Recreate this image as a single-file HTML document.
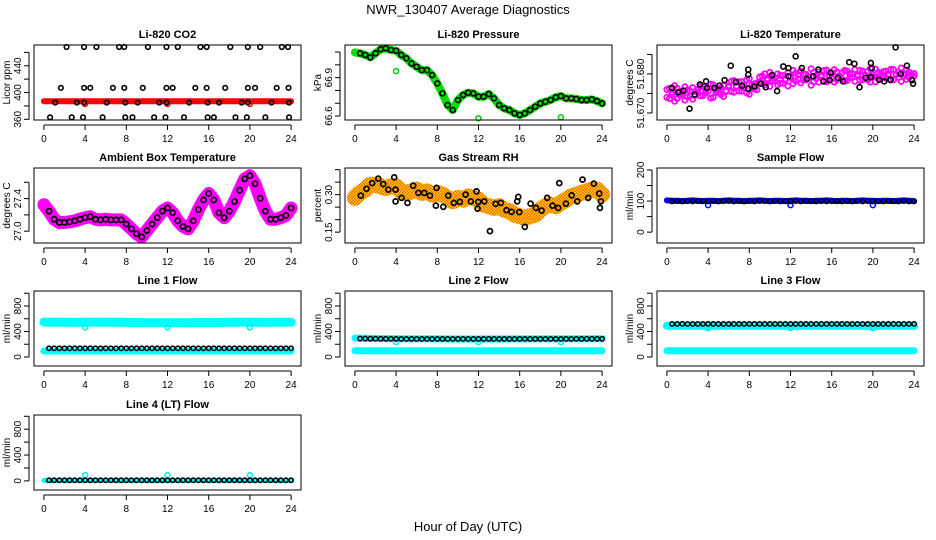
<!DOCTYPE html>
<html><head><meta charset="utf-8">
<style>
html,body{margin:0;padding:0;background:#fff;}
svg{display:block;font-family:"Liberation Sans",sans-serif;}
</style></head>
<body>
<svg id="chart" width="936" height="540" viewBox="0 0 936 540" xmlns="http://www.w3.org/2000/svg">
<defs>
<pattern id="chk" width="3" height="3" patternUnits="userSpaceOnUse">
<rect width="3" height="3" fill="#ffd800"/><rect width="1.5" height="1.5" fill="#f06000"/><rect x="1.5" y="1.5" width="1.5" height="1.5" fill="#f06000"/>
</pattern>
</defs>
<rect width="936" height="540" fill="#fff"/>
<text x="468" y="14" text-anchor="middle" font-size="13">NWR_130407  Average Diagnostics</text>
<text x="468" y="531" text-anchor="middle" font-size="13">Hour of Day (UTC)</text>
</svg>
<script>
// ---- data ----
const hours49 = [0,0.5,1,1.5,2,2.5,3,3.5,4,4.5,5,5.5,6,6.5,7,7.5,8,8.5,9,9.5,10,10.5,11,11.5,12,12.5,13,13.5,14,14.5,15,15.5,16,16.5,17,17.5,18,18.5,19,19.5,20,20.5,21,21.5,22,22.5,23,23.5,24];
const hours97 = [0,0.25,0.5,0.75,1,1.25,1.5,1.75,2,2.25,2.5,2.75,3,3.25,3.5,3.75,4,4.25,4.5,4.75,5,5.25,5.5,5.75,6,6.25,6.5,6.75,7,7.25,7.5,7.75,8,8.25,8.5,8.75,9,9.25,9.5,9.75,10,10.25,10.5,10.75,11,11.25,11.5,11.75,12,12.25,12.5,12.75,13,13.25,13.5,13.75,14,14.25,14.5,14.75,15,15.25,15.5,15.75,16,16.25,16.5,16.75,17,17.25,17.5,17.75,18,18.25,18.5,18.75,19,19.25,19.5,19.75,20,20.25,20.5,20.75,21,21.25,21.5,21.75,22,22.25,22.5,22.75,23,23.25,23.5,23.75,24];
const outlierHours = [4,12,20];

const co2Red = [387,387,387,387,387,387,387,387,387,387,387,387,387,387,387,387,387,387,387,387,387,387,387,387,387,387,387,387,387,387,387,387,387,387,387,387,387,387,387,387,387,387,387,387,387,387,387,387,387];
const co2BlackHours = [2.2,3.9,5.1,7.3,7.8,10.1,11.9,13.0,15.2,15.8,18.1,19.8,21.0,23.1,23.7, 1.65,3.9,4.5,6.7,7.8,9.6,11.9,12.5,14.7,15.8,17.6,19.8,20.5,22.6,23.75, 1.1,3.2,3.9,6.1,7.9,9.1,11.2,11.9,14.1,15.9,17.0,19.2,19.8,22.1,23.8, 0.6,2.7,3.8,5.7,7.9,8.6,10.7,11.8,13.6,15.9,16.5,18.6,19.7,21.5,23.8];
const co2BlackVals = [468,468,468,468,468,468,468,468,468,468,468,468,468,468,468, 407,407,407,407,407,407,407,407,407,407,407,407,407,407,407, 385,385,385,385,385,385,385,385,385,385,385,385,385,385,385, 363,363,363,363,363,363,363,363,363,363,363,363,363,363,363];
const co2RedOutliers = [383,383,383];

const pressure = [67.097,67.090,67.077,67.058,67.090,67.121,67.129,67.116,67.110,67.077,67.051,67.011,66.985,66.959,66.959,66.920,66.855,66.777,66.686,66.647,66.725,66.764,66.782,66.777,66.751,66.751,66.772,66.738,66.686,66.660,66.647,66.621,66.608,66.621,66.647,66.673,66.699,66.712,66.725,66.746,66.756,66.738,66.738,66.733,66.725,66.725,66.730,66.717,66.699];
const pressureOutliers = [66.951,66.582,66.590];

const tempMagentaA = [51.6740,51.6763,51.6747,51.6770,51.6737,51.6755,51.6751,51.6733,51.6759,51.6744,51.6765,51.6745,
51.6752,51.6768,51.6744,51.6761,51.6756,51.6738,51.6772,51.6753,51.6760,51.6747,51.6770,51.6755,
51.6770,51.6755,51.6783,51.6767,51.6756,51.6780,51.6765,51.6751,51.6788,51.6772,51.6761,51.6777,
51.6780,51.6795,51.6772,51.6788,51.6768,51.6790,51.6782,51.6800,51.6776,51.6796,51.6785,51.6803,
51.6793,51.6775,51.6802,51.6786,51.6807,51.6784,51.6799,51.6791,51.6771,51.6804,51.6788,51.6805,
51.6797,51.6781,51.6810,51.6793,51.6801,51.6779,51.6805,51.6795,51.6787,51.6809,51.6783,51.6800,
51.6791,51.6811,51.6798,51.6783,51.6807,51.6795,51.6785,51.6813,51.6799,51.6780,51.6804,51.6792,
51.6806,51.6789,51.6800,51.6784,51.6811,51.6797,51.6791,51.6815,51.6795,51.6786,51.6805,51.6798,
51.6795];
const tempMagentaB = [51.6760,51.6737,51.6753,51.6730,51.6763,51.6745,51.6749,51.6767,51.6741,51.6756,51.6735,51.6755,
51.6760,51.6744,51.6768,51.6751,51.6756,51.6774,51.6740,51.6759,51.6752,51.6765,51.6742,51.6757,
51.6766,51.6781,51.6753,51.6769,51.6780,51.6756,51.6771,51.6785,51.6748,51.6764,51.6775,51.6759,
51.6792,51.6777,51.6800,51.6784,51.6804,51.6782,51.6790,51.6772,51.6796,51.6776,51.6787,51.6769,
51.6791,51.6809,51.6782,51.6798,51.6777,51.6800,51.6785,51.6793,51.6813,51.6780,51.6796,51.6779,
51.6793,51.6809,51.6780,51.6797,51.6789,51.6811,51.6785,51.6795,51.6803,51.6781,51.6807,51.6790,
51.6801,51.6781,51.6794,51.6809,51.6785,51.6797,51.6807,51.6779,51.6793,51.6812,51.6788,51.6800,
51.6790,51.6807,51.6796,51.6812,51.6785,51.6799,51.6805,51.6781,51.6801,51.6810,51.6791,51.6798,
51.6801];
const tempBlackHours = [0.5,1.1,1.6,2.2,2.7,3.2,3.8,3.9,4.6,5.1,5.6,6.2,6.7,7.3,7.9,7.9,7.9,8.5,9.1,9.6,10.2,10.7,11.3,11.8,11.8,12.5,13.1,13.6,14.2,14.7,15.2,15.8,15.9,16.6,17.1,17.7,18.2,18.7,19.3,19.8,19.8,19.9,20.6,21.1,21.7,22.2,22.7,23.3,23.8,23.9];
const tempBlackVals = [51.6764,51.6753,51.6757,51.6711,51.6747,51.6773,51.6781,51.6764,51.6764,51.6770,51.6784,51.6821,51.6779,51.6770,51.6762,51.6798,51.6811,51.6768,51.6775,51.6766,51.6797,51.6756,51.6819,51.6794,51.6815,51.6845,51.6815,51.6787,51.6794,51.6811,51.6781,51.6784,51.6803,51.6790,51.6781,51.6830,51.6826,51.6766,51.6790,51.6792,51.6828,51.6815,51.6785,51.6781,51.6785,51.6868,51.6800,51.6821,51.6784,51.6775];

const ambient = [27.325,27.246,27.147,27.107,27.107,27.115,27.127,27.147,27.166,27.178,27.147,27.139,27.147,27.139,27.139,27.139,27.087,27.028,26.968,26.929,27.008,27.087,27.166,27.246,27.285,27.226,27.127,27.059,27.028,27.127,27.265,27.384,27.463,27.384,27.226,27.166,27.246,27.364,27.503,27.642,27.681,27.582,27.404,27.246,27.147,27.147,27.166,27.194,27.285];

const rhBand = [0.287,0.307,0.320,0.340,0.340,0.333,0.327,0.333,0.333,0.313,0.307,0.313,0.320,0.307,0.313,0.300,0.307,0.300,0.287,0.273,0.287,0.280,0.293,0.287,0.280,0.260,0.254,0.247,0.254,0.240,0.234,0.220,0.214,0.207,0.214,0.220,0.240,0.254,0.260,0.254,0.267,0.280,0.293,0.300,0.307,0.313,0.320,0.320,0.300];
const rhBlackHours = [0.58,1.13,1.68,2.27,2.75,3.24,3.82,3.95,3.95,4.53,5.11,5.66,6.15,6.73,7.28,7.93,7.86,8.58,9.06,9.61,10.19,10.74,11.26,11.81,11.91,11.97,12.56,13.11,13.66,14.17,14.72,15.21,15.76,15.86,15.95,16.50,17.06,17.57,18.12,18.67,19.19,19.74,19.84,20.49,21.04,21.59,22.10,22.65,23.20,23.72,23.79,23.88];
const rhBlackVals = [0.296,0.323,0.346,0.364,0.342,0.320,0.369,0.320,0.273,0.287,0.267,0.336,0.307,0.307,0.296,0.327,0.256,0.251,0.296,0.267,0.271,0.300,0.273,0.313,0.244,0.271,0.273,0.154,0.263,0.267,0.238,0.231,0.273,0.291,0.230,0.171,0.264,0.247,0.236,0.287,0.256,0.247,0.346,0.264,0.297,0.273,0.360,0.287,0.344,0.304,0.247,0.273];

const sampleBlue = [102,101,101,100,101,102,101,100,101,101,100,101,102,101,101,100,101,101,102,101,100,101,101,100,101,102,101,101,100,101,101,102,101,100,101,101,100,101,102,101,101,100,101,101,100,101,102,101,100];
const sampleBlack = [null,99,100,99,100,99,100,100,99,100,99,100,100,99,100,99,100,99,100,100,99,100,99,100,99,100,99,100,100,99,100,99,100,100,99,100,99,100,99,100,99,100,99,100,100,99,100,99,99];
const sampleOutliers = [87,87,87];

const line1Upper = [548,545,546,544,547,545,543,546,548,544,545,547,546,544,545,547,543,540,541,539,540,538,539,540,538,541,539,540,538,539,540,541,539,540,541,543,546,545,547,544,546,545,544,546,543,545,544,546,545];
const line1Lower = [94,94,94,95,94,94,94,95,94,94,94,94,95,94,94,94,94,95,94,94,94,94,95,94,94,94,94,95,94,94,94,94,95,94,94,94,94,95,94,94,94,94,95,94,94,94,94,95,94];
const line1Black = [null,136,136,137,136,136,136,137,136,136,136,136,137,136,136,136,136,137,136,136,136,136,137,136,136,136,136,137,136,136,136,136,137,136,136,136,136,137,136,136,136,136,137,136,136,136,136,137,136];
const line1Outliers = [466,466,466];

const line2Upper = [296,295,294,292,291,290,289,288,287,286,286,285,286,285,285,284,285,284,284,283,284,283,284,283,284,283,284,284,283,284,283,284,284,285,284,285,285,286,285,285,286,285,286,286,287,286,287,288,287];
const line2Lower = [99,99,99,98,99,99,99,99,98,99,99,99,99,98,99,99,99,99,98,99,99,99,99,98,99,99,99,99,98,99,99,99,99,98,99,99,99,99,98,99,99,99,99,98,99,99,99,99,99];
const line2Black = [null,290,289,288,287,286,285,285,284,284,283,284,283,283,284,283,283,284,283,283,284,283,283,284,283,283,284,283,283,284,283,283,284,283,283,284,284,283,284,284,283,284,284,285,284,285,285,286,286];
const line2Outliers = [234,234,234];

const line3Upper = [490,489,488,488,487,488,487,488,488,487,488,487,488,488,487,488,487,488,488,487,488,487,488,488,487,488,487,488,488,487,488,487,488,488,487,488,487,488,488,487,488,487,488,488,487,488,487,488,488];
const line3Lower = [99,99,99,98,99,99,99,99,98,99,99,99,99,98,99,99,99,99,98,99,99,99,99,98,99,99,99,99,98,99,99,99,99,98,99,99,99,99,98,99,99,99,99,98,99,99,99,99,99];
const line3Black = [null,519,519,520,519,518,519,519,520,519,518,519,519,518,519,518,519,518,519,518,518,519,518,519,518,519,518,519,519,518,519,518,519,519,518,519,518,519,519,518,519,518,519,519,518,519,518,519,519];
const line3Outliers = [452,452,452];

const line4Cyan = [8,8,8,8,8,8,8,8,8,8,8,8,8,8,8,8,8,8,8,8,8,8,8,8,8,8,8,8,8,8,8,8,8,8,8,8,8,8,8,8,8,8,8,8,8,8,8,8,8];
const line4Black = [null,9,9,9,9,9,9,9,9,9,9,9,9,9,9,9,9,9,9,9,9,9,9,9,9,9,9,9,9,9,9,9,9,9,9,9,9,9,9,9,9,9,9,9,9,9,9,9,9];
const line4Outliers = [89,89,89];

const xTicks = [0,4,8,12,16,20,24];

// ---- geometry ----
const NS = "http://www.w3.org/2000/svg";
const svg = document.getElementById('chart');
const X0 = [34,345,657], Y0 = [45,168,291,415], W = 267, H = 75;
function mk(tag, attrs, parent){ const e = document.createElementNS(NS, tag); for (const k in attrs) e.setAttribute(k, attrs[k]); (parent||svg).appendChild(e); return e; }

function makePanel(c, r, title, ytitle, lo, hi, ticks, labels, name){
  const g = mk('g', {});
  
  
  const x0 = X0[c], y0 = Y0[r];
  const sx = h => x0 + (h + 0.96) / 25.92 * W;
  const sy = v => y0 + H - (v - lo) / (hi - lo) * H;
  const p = {g, sx, sy, x0, y0};
  const plot = mk('g', {}, g);
  
  
  p.plot = plot;
  p.finish = () => {
    const box = mk('rect', {x:x0, y:y0, width:W, height:H, fill:'none', stroke:'#000', 'stroke-width':1}, g);
    
    
    const t = mk('text', {x:x0 + W/2, y:y0 - 7, 'text-anchor':'middle', 'font-size':11, 'font-weight':'bold'}, g);
    t.textContent = title;
    
    
    const yt = mk('text', {transform:`translate(${x0-24},${y0+H/2}) rotate(-90)`, 'text-anchor':'middle', 'font-size':10}, g);
    yt.textContent = ytitle;
    
    
    const xa = mk('g', {}, g);
    
    
    const yb = y0 + H;
    mk('line', {x1:sx(xTicks[0]), x2:sx(xTicks[xTicks.length-1]), y1:yb+5, y2:yb+5, stroke:'#000'}, xa);
    xTicks.forEach(h => {
      mk('line', {x1:sx(h), x2:sx(h), y1:yb+5, y2:yb+10, stroke:'#000'}, xa);
      const tl = mk('text', {x:sx(h), y:yb+22, 'text-anchor':'middle', 'font-size':10}, xa);
      tl.textContent = h;
      
      
    });
    const ya = mk('g', {}, g);
    
    
    mk('line', {x1:x0-5, x2:x0-5, y1:sy(ticks[0]), y2:sy(ticks[ticks.length-1]), stroke:'#000'}, ya);
    ticks.forEach((v, i) => {
      mk('line', {x1:x0-10, x2:x0-5, y1:sy(v), y2:sy(v), stroke:'#000'}, ya);
      if (labels[i] !== '') {
        const tl = mk('text', {transform:`translate(${x0-13},${sy(v)}) rotate(-90)`, 'text-anchor':'middle', 'font-size':10}, ya);
        tl.textContent = labels[i];
        
        
      }
    });
  };
  return p;
}

function band(p, hs, vals, color, width, name){
  const pts = [];
  hs.forEach((h, i) => { if (vals[i] !== null) pts.push(p.sx(h).toFixed(1) + ',' + p.sy(vals[i]).toFixed(1)); });
  const pl = mk('polyline', {points:pts.join(' '), fill:'none', stroke:color, 'stroke-width':width, 'stroke-linejoin':'round', 'stroke-linecap':'round'}, p.plot);
  
  
}
function circles(p, hs, vals, color, r, sw, name){
  const g = mk('g', {}, p.plot);
  
  
  hs.forEach((h, i) => {
    if (vals[i] === null || vals[i] === undefined) return;
    const c = mk('circle', {cx:p.sx(h), cy:p.sy(vals[i]), r:r, fill:'none', stroke:color, 'stroke-width':sw}, g);
    
    
  });
}

// CO2
let p = makePanel(0,0,'Li-820 CO2','Licor ppm',359,471,[360,380,400,420,440,460],['360','','400','','440',''],'co2');
band(p, hours49, co2Red, '#f00', 6, 'co2-red-band');
circles(p, outlierHours, co2RedOutliers, '#f00', 2.5, 1.5, 'co2-red-outliers');
circles(p, co2BlackHours, co2BlackVals, '#000', 2.3, 1.6, 'co2-black-points');
p.finish();

// Pressure
p = makePanel(1,0,'Li-820 Pressure','kPa',66.569,67.155,[66.6,66.7,66.8,66.9,67.0,67.1],['66.6','','','66.9','',''],'pressure');
band(p, hours49, pressure, '#00dd00', 8, 'pressure-green-band');
circles(p, outlierHours, pressureOutliers, '#00cc00', 2.5, 1.5, 'pressure-outliers');
circles(p, hours49.slice(1), pressure.slice(1), '#000', 2.5, 1.6, 'pressure-black-points');
p.finish();

// Temperature
p = makePanel(2,0,'Li-820 Temperature','degrees C',51.6682,51.6874,[51.670,51.675,51.680,51.685],['51.670','','51.680',''],'temperature');
circles(p, hours97, tempMagentaA, '#ff00ff', 2.6, 1.8, 'temperature-magenta-points-a');
circles(p, hours97, tempMagentaB, '#ff00ff', 2.6, 1.8, 'temperature-magenta-points-b');
circles(p, tempBlackHours, tempBlackVals, '#000', 2.5, 1.6, 'temperature-black-points');
p.finish();

// Ambient
p = makePanel(0,1,'Ambient Box Temperature','degrees C',26.855,27.776,[27.0,27.2,27.4,27.6],['27.0','','27.4',''],'ambient');
band(p, hours49, ambient, '#ff00ff', 13, 'ambient-magenta-band');
circles(p, hours49.slice(1), ambient.slice(1), '#000', 2.6, 1.7, 'ambient-black-points');
p.finish();

// Gas RH
p = makePanel(1,1,'Gas Stream RH','percent',0.1066,0.4066,[0.15,0.20,0.25,0.30,0.35,0.40],['0.15','','','0.30','',''],'gas-rh');
band(p, hours49, rhBand, 'url(#chk)', 16, 'gas-rh-band');
circles(p, rhBlackHours, rhBlackVals, '#000', 2.5, 1.7, 'gas-rh-black-points');
p.finish();

// Sample flow
p = makePanel(2,1,'Sample Flow','ml/min',-34.9,206.3,[0,50,100,150,200],['0','','100','','200'],'sample-flow');
band(p, hours49, sampleBlue, '#0000ff', 6, 'sample-flow-blue-band');
circles(p, outlierHours, sampleOutliers, '#0000ff', 2.5, 1.5, 'sample-flow-outliers');
circles(p, hours49, sampleBlack, '#000', 2.2, 1.5, 'sample-flow-black-points');
p.finish();

const lt = [0,200,400,600,800,1000], ll = ['0','','400','','800',''];
// Line 1
p = makePanel(0,2,'Line 1 Flow','ml/min',-141,1035,lt,ll,'line1-flow');
band(p, hours49, line1Upper, '#00ffff', 9, 'line1-cyan-upper');
band(p, hours49, line1Lower, '#00ffff', 7, 'line1-cyan-lower');
circles(p, outlierHours, line1Outliers, '#00eeee', 2.5, 1.5, 'line1-outliers');
circles(p, hours49, line1Black, '#000', 2.2, 1.5, 'line1-black-points');
p.finish();
// Line 2
p = makePanel(1,2,'Line 2 Flow','ml/min',-141,1035,lt,ll,'line2-flow');
band(p, hours49, line2Upper, '#00ffff', 7, 'line2-cyan-upper');
band(p, hours49, line2Lower, '#00ffff', 7, 'line2-cyan-lower');
circles(p, outlierHours, line2Outliers, '#00eeee', 2.5, 1.5, 'line2-outliers');
circles(p, hours49, line2Black, '#000', 2.2, 1.5, 'line2-black-points');
p.finish();
// Line 3
p = makePanel(2,2,'Line 3 Flow','ml/min',-141,1035,lt,ll,'line3-flow');
band(p, hours49, line3Upper, '#00ffff', 8, 'line3-cyan-upper');
band(p, hours49, line3Lower, '#00ffff', 7, 'line3-cyan-lower');
circles(p, outlierHours, line3Outliers, '#00eeee', 2.5, 1.5, 'line3-outliers');
circles(p, hours49, line3Black, '#000', 2.2, 1.5, 'line3-black-points');
p.finish();
// Line 4
p = makePanel(0,3,'Line 4 (LT) Flow','ml/min',-141,1020,lt,ll,'line4-flow');
band(p, hours49, line4Cyan, '#00ffff', 5, 'line4-cyan');
circles(p, outlierHours, line4Outliers, '#00eeee', 2.5, 1.5, 'line4-outliers');
circles(p, hours49, line4Black, '#000', 2.2, 1.6, 'line4-black-points');
p.finish();
</script>
</body></html>
